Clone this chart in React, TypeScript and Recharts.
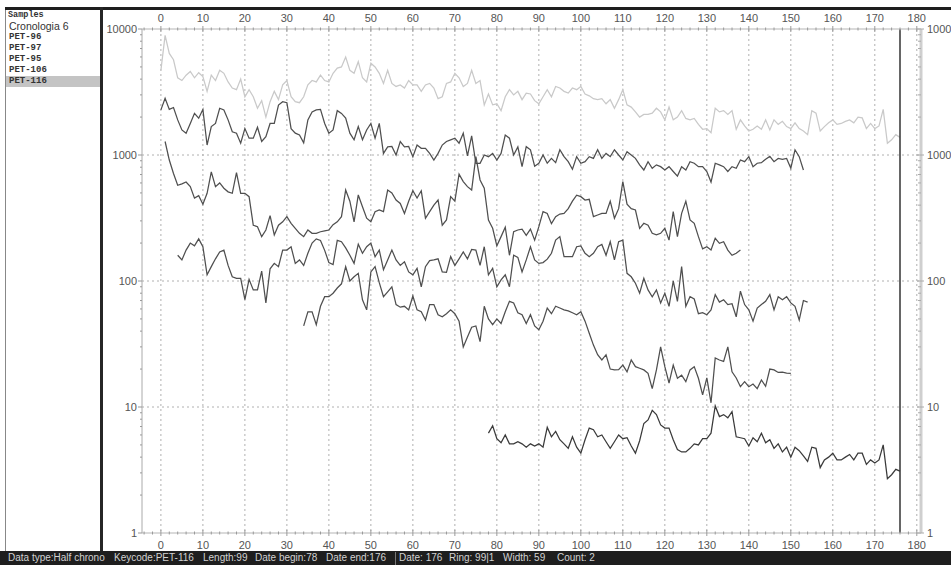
import { LineChart, Line, XAxis, YAxis, CartesianGrid, ReferenceLine } from 'recharts';

// sample list (left panel) and the first year of each series
const sampleNames = ['Cronologia 6', 'PET-96', 'PET-97', 'PET-95', 'PET-106', 'PET-116'];
const startYears = [0, 0, 1, 4, 34, 78];

const cronologia6 = [
  4700, 8900, 6400, 5700, 4100, 3900, 4300, 4600, 4100, 4500,
  4200, 3200, 4300, 3900, 4700, 4450, 3800, 3400, 3300, 4000,
  2900, 3300, 2900, 2350, 2700, 2000, 2650, 3200, 2750, 3600,
  3900, 2900, 2650, 2600, 2900, 3600, 3900, 3800, 4300, 3900,
  3800, 4450, 4900, 5000, 6000, 4700, 4450, 5500, 4100, 3800,
  5350, 5000, 4450, 3700, 4700, 3700, 3500, 3600, 3400, 3900,
  3600, 3600, 3200, 3600, 3700, 3400, 2800, 2900, 3700, 3800,
  4450, 4100, 3500, 3700, 4700, 3700, 3900, 2500, 3050, 2500,
  2550, 2250, 2900, 3300, 3000, 3200, 2750, 3100, 3050, 2700,
  2550, 2900, 3300, 2900, 3500, 3400, 3200, 3100, 3400, 3300,
  3500, 3050, 2950, 2800, 2750, 2800, 2550, 2750, 2350, 2750,
  3300, 2500, 2400, 2200, 2000, 2100, 2100, 2150, 2350, 2200,
  1900, 2400, 1900, 2000, 2250, 1950, 1900, 1950, 1750, 1600,
  1620, 1500, 2350, 2200, 2250, 2100, 2250, 1600, 1900, 1700,
  1550, 1600, 1700, 1600, 1900, 1580, 1900, 1750, 1850, 1680,
  1620, 1800, 1620, 1550, 1450, 2250, 2150, 1550, 1680, 1800,
  1900, 1750, 1780, 1850, 1900, 1800, 2000, 1970, 1620, 1780,
  1620, 1700, 2300, 1240, 1320, 1450, 1380,
];

const pet96 = [
  2280, 2820, 2300, 2380, 1900, 1580, 1490, 1780, 2140, 1960,
  2300, 1200, 1680, 1780, 2350, 2280, 1900, 1530, 1490, 1240,
  1620, 1360, 1360, 1660, 1280, 1400, 1780, 1780, 2490, 2650,
  2600, 1620, 1490, 1440, 1250, 1900, 2200, 2280, 2300, 1780,
  1490, 1580, 2250, 2140, 1960, 1490, 1320, 1680, 1320, 1580,
  1780, 1360, 1780, 1030, 1160, 1170, 1000, 1280, 1160, 1170,
  970, 1200, 1130, 1130, 1030, 912, 1030, 1200, 1280, 1320,
  1360, 1240, 1490, 985, 1420, 860, 860, 1000, 970, 1030,
  912, 1030, 1440, 1360, 1000, 1160, 807, 1165, 1100, 815,
  860, 1000, 860, 940, 870, 1100, 970, 885, 770, 970,
  860, 885, 970, 940, 1100, 940, 1030, 970, 1100, 1000,
  913, 1060, 1000, 940, 835, 760, 885, 785, 835, 808,
  760, 808, 740, 680, 808, 760, 885, 860, 808, 808,
  740, 610, 860, 835, 808, 740, 808, 785, 913, 885,
  970, 808, 860, 870, 925, 975, 885, 940, 925, 940,
  785, 1100, 970, 760,
];

const pet97 = [
  1280, 912, 714, 575, 590, 610, 561, 455, 475, 407,
  497, 735, 561, 600, 545, 510, 497, 725, 497, 497,
  467, 277, 270, 225, 254, 330, 232, 277, 295, 324,
  287, 262, 239, 225, 254, 239, 239, 246, 250, 254,
  280, 295, 324, 527, 430, 295, 482, 389, 315, 295,
  355, 366, 355, 527, 500, 439, 413, 344, 430, 520,
  455, 520, 315, 355, 400, 439, 277, 305, 467, 430,
  705, 615, 561, 527, 970, 634, 545, 305, 262, 190,
  225, 267, 160, 246, 254, 258, 230, 258, 211, 270,
  355, 344, 285, 324, 340, 344, 375, 430, 480, 467,
  439, 445, 324, 334, 344, 344, 430, 315, 375, 615,
  407, 375, 366, 262, 287, 277, 239, 232, 239, 262,
  211, 355, 225, 344, 430, 305, 287, 225, 180, 187,
  176, 218, 199, 205, 176, 160, 166, 176,
];

const pet95 = [
  160, 147, 176, 200, 190, 216, 187, 112, 130, 150,
  170, 176, 133, 108, 105, 105, 71, 103, 85, 85,
  120, 67, 125, 138, 130, 176, 176, 187, 138, 147,
  133, 166, 200, 216, 210, 175, 140, 135, 210, 205,
  183, 160, 138, 196, 166, 187, 200, 156, 176, 123,
  147, 176, 147, 133, 142, 118, 112, 126, 90, 130,
  145, 147, 150, 118, 117, 156, 133, 150, 170, 150,
  178, 176, 133, 187, 112, 126, 90, 102, 112, 90,
  160, 154, 118, 147, 187, 147, 138, 140, 149, 166,
  211, 225, 156, 156, 156, 187, 190, 166, 156, 166,
  187, 195, 160, 205, 147, 205, 211, 115, 108, 96,
  80, 105, 85, 75, 85, 67, 80, 63, 100, 69,
  130, 63, 75, 72, 55, 56, 54, 59, 78, 68,
  71, 65, 66, 52, 83, 65, 59, 48, 61, 65,
  69, 78, 59, 75, 71, 75, 67, 63, 49, 70,
  68,
];

const pet106 = [
  44, 57, 57, 45, 63, 75, 75, 80, 88, 95,
  130, 100, 108, 115, 71, 59, 118, 130, 97, 75,
  82, 90, 65, 62, 63, 59, 76, 59, 57, 49,
  65, 65, 54, 52, 55, 59, 55, 48, 30, 36,
  43, 44, 33, 63, 50, 45, 50, 46, 57, 69,
  67, 56, 54, 46, 54, 44, 41, 48, 61, 55,
  63, 61, 59, 58, 56, 54, 57, 48, 38.5, 31,
  26, 23.6, 26, 20, 19.7, 19.8, 21.5, 19, 23.6, 20.9,
  20.3, 19.7, 18.5, 14, 19.7, 30, 20.9, 15.5, 21.5, 16.9,
  17.9, 15.9, 19.7, 20.9, 16.9, 12.5, 17, 10.8, 24.5, 23.6,
  23, 30, 19, 17, 14.5, 15.9, 14.5, 15.2, 14, 16.4,
  14.6, 20, 19.7, 18.8, 18.9, 18.6, 18.5,
];

const pet116 = [
  6.2, 7.1, 5.6, 5.2, 6.0, 5.1, 5.1, 5.3, 5.1, 4.8,
  5.1, 4.9, 5.1, 4.8, 6.9, 5.8, 6.4, 5.5, 5.1, 4.7,
  5.8, 4.8, 4.3, 5.5, 6.8, 6.6, 5.8, 6.0, 5.3, 4.7,
  5.3, 6.0, 5.6, 5.7, 4.9, 4.3, 5.4, 7.4, 7.9, 9.4,
  8.7, 7.2, 6.8, 6.8, 5.5, 4.6, 4.4, 4.4, 4.7, 5.1,
  5.0, 5.6, 5.6, 6.2, 10.2, 8.4, 8.7, 8.2, 9.2, 5.8,
  5.7, 5.6, 4.9, 5.7, 5.3, 6.2, 5.2, 5.5, 4.7, 5.1,
  4.4, 4.8, 4.0, 4.8, 4.5, 4.1, 3.7, 4.8, 4.7, 3.3,
  3.8, 4.0, 4.3, 3.8, 3.8, 4.0, 4.2, 3.8, 4.3, 4.3,
  3.5, 3.8, 3.6, 3.8, 5.0, 2.7, 2.9, 3.2, 3.1,
];

const series = [cronologia6, pet96, pet97, pet95, pet106, pet116];
const seriesColors = ['#c9c9c9', '#4f4f4f', '#4f4f4f', '#4f4f4f', '#4f4f4f', '#3a3a3a'];

const yearTicks = [0, 10, 20, 30, 40, 50, 60, 70, 80, 90, 100, 110, 120, 130, 140, 150, 160, 170, 180];
const minorYearTicks = Array.from({ length: 93 }, (_, i) => -4 + i * 2);
const decadeTicks = [1, 10, 100, 1000, 10000];
const logTicks = [1, 10, 100, 1000].flatMap((d) => [1, 2, 3, 4, 5, 6, 7, 8, 9].map((m) => m * d)).concat(10000);
const gridValues = [10, 100, 1000];
const cursorYear = 176;

const statusItems = [
  ['Data type:Half chrono', 8],
  ['Keycode:PET-116', 114],
  ['Length:99', 203],
  ['Date begin:78', 255],
  ['Date end:176', 326],
  ['Date: 176', 399],
  ['Ring: 99|1', 449],
  ['Width: 59', 503],
  ['Count: 2', 557],
] as const;

const rows = Array.from({ length: 181 }, (_, year) => {
  const row: Record<string, number> = { year };
  series.forEach((s, i) => {
    const v = s[year - startYears[i]];
    if (v !== undefined) row['s' + i] = v;
  });
  return row;
});

const font = '"Liberation Sans", Arial, sans-serif';
const axisGray = '#b5b5b5';

function TopTick({ x, y, payload }: any) {
  const v = payload.value;
  const major = v % 10 === 0;
  const ay = y + 6;
  return (
    <g>
      <line x1={x} x2={x} y1={ay - (major ? 3 : 1.5)} y2={ay + (major ? 3 : 1.5)} stroke="#999" />
      {major && v >= 0 && (
        <text x={x} y={ay - 7} textAnchor="middle" fontSize={11} fill="#555" fontFamily={font}>{v}</text>
      )}
    </g>
  );
}

function BottomTick({ x, y, payload }: any) {
  const v = payload.value;
  const major = v % 10 === 0;
  const ay = y - 6;
  return (
    <g>
      <line x1={x} x2={x} y1={ay - (major ? 3 : 1.5)} y2={ay + (major ? 3 : 1.5)} stroke="#999" />
      {major && v >= 0 && (
        <text x={x} y={ay + 16} textAnchor="middle" fontSize={11} fill="#555" fontFamily={font}>{v}</text>
      )}
    </g>
  );
}

function LeftTick({ x, y, payload }: any) {
  const v = payload.value;
  const major = decadeTicks.includes(v);
  const ax = x + 5;
  return (
    <g>
      <line x1={ax - (major ? 4 : 2)} x2={ax} y1={y} y2={y} stroke="#999" />
      {major && (
        <text x={ax - 5} y={y + 4} textAnchor="end" fontSize={11} fill="#555" fontFamily={font}>{v}</text>
      )}
    </g>
  );
}

function RightTick({ x, y, payload }: any) {
  const v = payload.value;
  const major = decadeTicks.includes(v);
  const ax = x - 5;
  return (
    <g>
      <line x1={ax - (major ? 4 : 3)} x2={ax + (major ? 3 : 0)} y1={y} y2={y} stroke="#aaa" />
      {major && (
        <text x={ax + 6} y={y + 4} textAnchor="start" fontSize={11} fill="#555" fontFamily={font}>{v}</text>
      )}
    </g>
  );
}

export default function App() {
  return (
    <div style={{ position: 'absolute', left: 0, top: 0, width: 951, height: 565, background: '#fff', overflow: 'hidden', fontFamily: font }}>
      <div style={{ position: 'absolute', left: 104, top: 0 }}>
        <LineChart width={847} height={551} data={rows} margin={{ top: 0, right: 0, bottom: 0, left: 0 }}>
          <CartesianGrid
            xAxisId="bottom"
            yAxisId="left"
            stroke="#b0b0b0"
            strokeDasharray="2 3"
            verticalValues={yearTicks}
            horizontalValues={gridValues}
          />
          <XAxis
            xAxisId="top"
            orientation="top"
            dataKey="year"
            type="number"
            domain={[-4.5, 181]}
            allowDataOverflow
            ticks={minorYearTicks}
            interval={0}
            height={29}
            tickSize={4}
            tickMargin={2}
            tickLine={false}
            tick={<TopTick />}
            axisLine={{ stroke: axisGray }}
          />
          <XAxis
            xAxisId="bottom"
            orientation="bottom"
            dataKey="year"
            type="number"
            domain={[-4.5, 181]}
            allowDataOverflow
            ticks={minorYearTicks}
            interval={0}
            height={18}
            tickSize={4}
            tickMargin={2}
            tickLine={false}
            tick={<BottomTick />}
            axisLine={{ stroke: axisGray }}
          />
          <YAxis
            yAxisId="left"
            orientation="left"
            scale="log"
            domain={[1, 10000]}
            allowDataOverflow
            ticks={logTicks}
            interval={0}
            width={38}
            tickSize={4}
            tickMargin={1}
            tickLine={false}
            tick={<LeftTick />}
            axisLine={{ stroke: '#aaa' }}
          />
          <YAxis
            yAxisId="right"
            orientation="right"
            scale="log"
            domain={[1, 10000]}
            allowDataOverflow
            ticks={logTicks}
            interval={0}
            width={30}
            tickSize={4}
            tickMargin={1}
            tickLine={false}
            tick={<RightTick />}
            axisLine={{ stroke: '#cfcfcf', strokeWidth: 3 }}
          />
          {series.map((_, i) => (
            <Line
              key={i}
              xAxisId="bottom"
              yAxisId="left"
              dataKey={'s' + i}
              name={sampleNames[i]}
              type="linear"
              stroke={seriesColors[i]}
              strokeWidth={1.25}
              dot={false}
              activeDot={false}
              connectNulls={false}
              isAnimationActive={false}
            />
          ))}
          <ReferenceLine xAxisId="bottom" yAxisId="left" x={cursorYear} stroke="#333" strokeWidth={1.5} />
        </LineChart>
      </div>

      {/* left panel */}
      <div style={{ position: 'absolute', left: 5, top: 7, width: 1, height: 544, background: '#888' }} />
      <div style={{ position: 'absolute', left: 5, top: 7, width: 946, height: 3, background: '#1e1e1e' }} />
      <div style={{ position: 'absolute', left: 100, top: 7, width: 3, height: 544, background: '#262626' }} />
      <div style={{ position: 'absolute', left: 8, top: 10, fontFamily: '"Liberation Mono", monospace', fontWeight: 'bold', fontSize: 8.5, color: '#333', lineHeight: '11px' }}>
        Samples
      </div>
      {sampleNames.map((n, i) => (
        <div
          key={n}
          style={{
            position: 'absolute',
            left: 6,
            top: 21 + i * 11,
            width: 94,
            height: 11,
            paddingLeft: 3,
            boxSizing: 'border-box',
            background: i === sampleNames.length - 1 ? '#c4c4c4' : 'transparent',
            fontFamily: i === 0 ? font : '"Liberation Mono", monospace',
            fontWeight: i === 0 ? 'normal' : 'bold',
            fontSize: i === 0 ? 10.5 : 9,
            color: '#333',
            lineHeight: '11px',
            whiteSpace: 'nowrap',
          }}
        >
          {n}
        </div>
      ))}

      {/* status bar */}
      <div style={{ position: 'absolute', left: 0, top: 551, width: 951, height: 14, background: '#1e1e1e' }}>
        {statusItems.map(([t, x]) => (
          <span key={t} style={{ position: 'absolute', left: x, top: 0, fontSize: 10, lineHeight: '14px', color: '#d2d2d2', whiteSpace: 'nowrap' }}>
            {t}
          </span>
        ))}
        <div style={{ position: 'absolute', left: 395, top: 1, width: 1, height: 13, background: '#777' }} />
      </div>
    </div>
  );
}
